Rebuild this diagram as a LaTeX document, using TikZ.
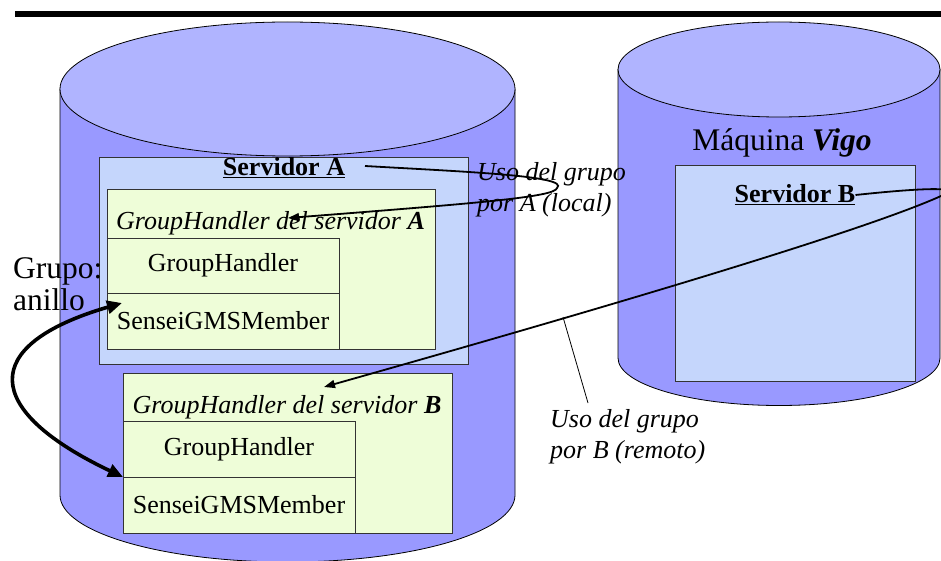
\documentclass[tikz,border=0pt]{standalone}
\usepackage{fontspec}
\setmainfont{Liberation Serif}
\usetikzlibrary{arrows.meta}
\definecolor{cylside}{RGB}{153,153,255}
\definecolor{cyltop}{RGB}{176,180,255}
\definecolor{srvfill}{RGB}{197,214,252}
\definecolor{ghfill}{RGB}{238,253,216}
\tikzset{
  cylline/.style={draw=black, line width=0.8pt},
  box/.style={draw=black!80, line width=0.9pt, anchor=north west, inner sep=0pt, outer sep=0pt},
  srvbox/.style={box, fill=srvfill},
  ghbox/.style={box, fill=ghfill},
  txt/.style={inner sep=0pt, font=\fontsize{26}{31}\selectfont},
  bigtxt/.style={inner sep=0pt, font=\fontsize{31.5}{32}\selectfont},
  conn/.style={line width=1.8pt, -{Triangle[length=11pt,width=8pt]}},
  ring/.style={line width=3.6pt, {Triangle[length=15pt,width=13pt]}-{Triangle[length=15pt,width=13pt]}},
  leader/.style={line width=0.8pt}
}
\begin{document}
\begin{tikzpicture}[x=1pt,y=-1pt]
\useasboundingbox (0,0) rectangle (941,561);

% heavy rule along the top
\fill (15,11) rectangle (941,17);

% left machine (cylinder)
\filldraw[cylline, fill=cylside] (60,89) -- (60,495)
  arc[start angle=180, end angle=360, x radius=227.5pt, y radius=67pt] -- (515,89) -- cycle;
\filldraw[cylline, fill=cyltop] (287.5,89) ellipse [x radius=227.5pt, y radius=67pt];

% right machine (cylinder)
\filldraw[cylline, fill=cylside] (618,69.5) -- (618,358)
  arc[start angle=180, end angle=360, x radius=161pt, y radius=47.5pt] -- (940,69.5) -- cycle;
\filldraw[cylline, fill=cyltop] (779,69.5) ellipse [x radius=161pt, y radius=47.5pt];

% server A and its group handler
\node[srvbox, minimum width=369pt, minimum height=207pt] (srvA) at (99,157) {};
\node[ghbox, minimum width=328pt, minimum height=160pt] (ghA) at (107,189) {};
\node[ghbox, minimum width=232pt, minimum height=55pt] (ghA1) at (107,238) {};
\node[ghbox, minimum width=232pt, minimum height=56pt] (ghA2) at (107,293) {};
\node[txt] (ghA1t) at (ghA1.center) {GroupHandler};
\node[txt] (ghA2t) at (ghA2.center) {SenseiGMSMember};
\node[txt] (sA) at (284,168) {\underline{\textbf{Servidor A}}};
\node[txt] (ghAt) at (270.5,223) {\textit{GroupHandler del servidor \textbf{A}}};

% group handler of server B, hosted on the left machine
\node[ghbox, minimum width=329pt, minimum height=160pt] (ghB) at (123,373) {};
\node[ghbox, minimum width=232pt, minimum height=56pt] (ghB1) at (123,421) {};
\node[ghbox, minimum width=232pt, minimum height=56pt] (ghB2) at (123,477) {};
\node[txt] (ghB1t) at (ghB1.center) {GroupHandler};
\node[txt] (ghB2t) at (ghB2.center) {SenseiGMSMember};
\node[txt] (ghBt) at (287,407) {\textit{GroupHandler del servidor \textbf{B}}};

% server B on machine Vigo
\node[srvbox, minimum width=240pt, minimum height=216pt] (srvB) at (675,165) {};
\node[txt] (sB) at (795,195) {\underline{\textbf{Servidor B}}};
\node[bigtxt] (vigo) at (782,143) {Máquina \textbf{\textit{Vigo}}};

% free labels
\node[bigtxt, anchor=west, align=left] (grupo) at (13,284) {Grupo:\\anillo};
\node[txt, anchor=west, align=left] (usoA) at (477,190) {\textit{Uso del grupo}\\\textit{por A (local)}};
\node[txt, anchor=west, align=left] (usoB) at (550,437) {\textit{Uso del grupo}\\\textit{por B (remoto)}};

% connector end points
\coordinate (startA) at (365,166);
\coordinate (turnA) at (557,188);
\coordinate (tipA) at (288,218);
\coordinate (turnB) at (941,196);
\coordinate (tipB) at (324,387);
\coordinate (onB) at (563,317);
\coordinate (leadB) at (588,403);
\coordinate (ringA) at (122,303);
\coordinate (ringB) at (123,477);

% local use of the group by A
\draw[conn] (startA) .. controls (470,172) and (570,176) .. (turnA)
  .. controls (555,197) and (480,203) .. (tipA);
% remote use of the group by B
\draw[conn] (sB.east) .. controls (930,187) and (965,187) .. (turnB)
  .. controls (870,228) and (650,295) .. (tipB);
\draw[leader] (onB) -- (leadB);

% ring of group members
\draw[ring] (ringA) .. controls (-22,345) and (-18,410) .. (ringB);
\end{tikzpicture}
\end{document}
